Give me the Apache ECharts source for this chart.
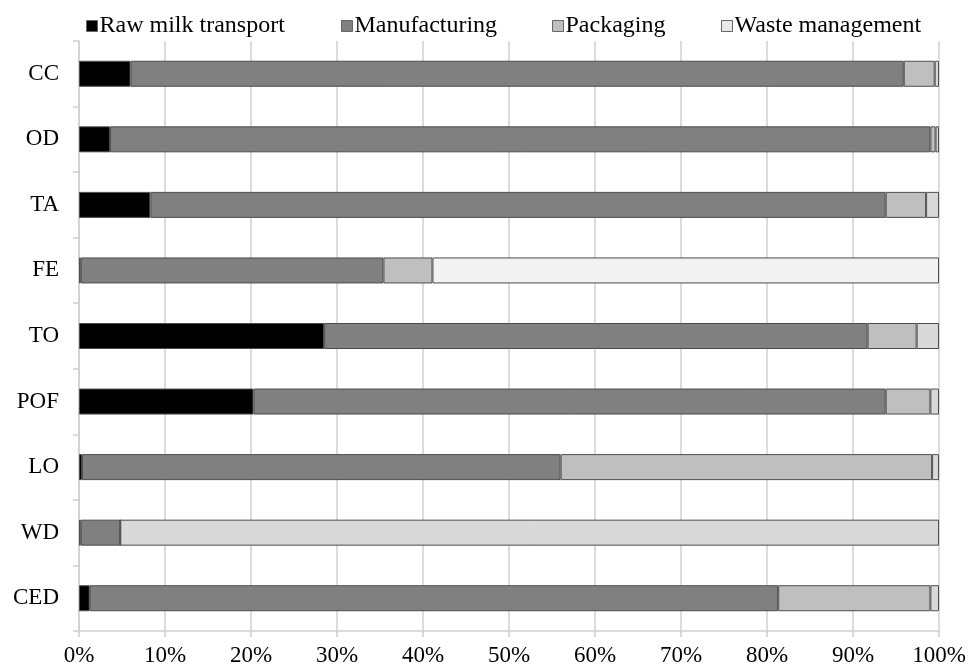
<!DOCTYPE html>
<html>
<head>
<meta charset="utf-8">
<script src="https://cdn.jsdelivr.net/npm/echarts@6/dist/echarts.min.js"></script>
<style>html,body{margin:0;padding:0;background:#fff;}#chart{width:970px;height:668px;}</style>
</head>
<body>
<div id="chart"></div>
<script>
// Categories (top to bottom)
const categories = ['CC', 'OD', 'TA', 'FE', 'TO', 'POF', 'LO', 'WD', 'CED'];
// Shares in percent
const rawMilkTransport = [6.0, 3.6, 8.3, 0.2, 28.5, 20.3, 0.35, 0.2, 1.25];
const manufacturing    = [89.9, 95.4, 85.5, 35.2, 63.2, 73.5, 55.65, 4.6, 80.05];
const packaging        = [3.6, 0.6, 4.7, 5.7, 5.7, 5.2, 43.2, 0, 17.7];
const wasteManagement  = [0.5, 0.4, 1.5, 58.9, 2.6, 1.0, 0.8, 95.2, 1.0];
const seriesNames = ['Raw milk transport', 'Manufacturing', 'Packaging', 'Waste management'];
const xTicks = [0, 10, 20, 30, 40, 50, 60, 70, 80, 90, 100];

const colors = ['#000000', '#808080', '#bfbfbf', '#d9d9d9'];
const overrideColor = { 'Waste management': { FE: '#f2f2f2' } };
const FONT = '"Liberation Serif", "DejaVu Serif", serif';

const rev = arr => arr.slice().reverse();
const cats = rev(categories);
const allVals = [rawMilkTransport, manufacturing, packaging, wasteManagement];

const series = seriesNames.map((name, i) => ({
  name: name,
  type: 'bar',
  stack: 'total',
  barWidth: 26,
  itemStyle: { color: colors[i], borderColor: '#4d4d4d', borderWidth: 1 },
  emphasis: { disabled: true },
  data: rev(allVals[i]).map((v, j) => {
    const o = overrideColor[name] && overrideColor[name][cats[j]];
    return o ? { value: v, itemStyle: { color: o } } : v;
  })
}));

const legendLefts = [86, 341, 552, 721];
const legends = seriesNames.map((n, i) => ({
  data: [n],
  left: legendLefts[i],
  top: 14,
  padding: 0,
  itemWidth: 11,
  itemHeight: 11,
  itemGap: 0,
  icon: 'rect',
  selectedMode: false,
  itemStyle: { borderColor: '#666', borderWidth: 1, color: i === 3 ? '#e8e8e8' : colors[i] },
  textStyle: { fontFamily: FONT, fontSize: 24, color: '#000', padding: [0, 0, 0, -3] }
}));

const chart = echarts.init(document.getElementById('chart'));
chart.setOption({
  animation: false,
  backgroundColor: '#fff',
  legend: legends,
  grid: { left: 79, right: 31, top: 41, bottom: 37 },
  xAxis: {
    type: 'value',
    min: 0, max: 100, interval: 10,
    axisLine: { show: true, lineStyle: { color: '#d0d0d0', width: 1.5 } },
    axisTick: { show: true, length: 6, lineStyle: { color: '#d0d0d0', width: 1.5 } },
    splitLine: { show: true, lineStyle: { color: '#d0d0d0', width: 1.5 } },
    axisLabel: { formatter: v => xTicks.includes(v) ? v + '%' : '', fontFamily: FONT, fontSize: 23, color: '#000', margin: 13 }
  },
  yAxis: {
    type: 'category',
    data: cats,
    axisLine: { show: true, lineStyle: { color: '#d0d0d0', width: 1.5 } },
    axisTick: { show: true, length: 6, lineStyle: { color: '#d0d0d0', width: 1.5 } },
    axisLabel: { fontFamily: FONT, fontSize: 23, color: '#000', margin: 20 }
  },
  series: series
});
</script>
</body>
</html>
